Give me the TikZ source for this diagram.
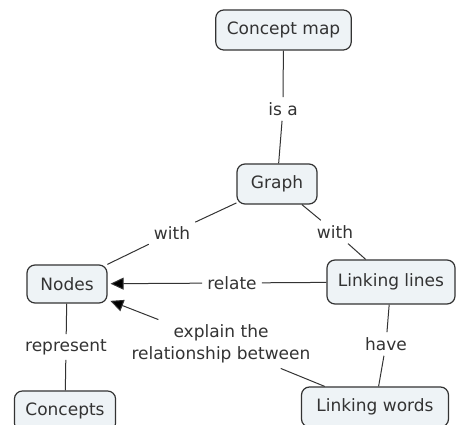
\documentclass[tikz,border=0pt]{standalone}
\usepackage{fontspec}
\setmainfont{DejaVu Sans}
\usetikzlibrary{positioning,arrows.meta}
\definecolor{boxfill}{HTML}{EEF3F6}
\definecolor{ink}{HTML}{333333}

\begin{document}
\begin{tikzpicture}[x=1pt,y=1pt,
  every node/.style={font=\fontsize{17}{22}\selectfont,text=ink},
  concept/.style={draw=ink,line width=1.2pt,fill=boxfill,rounded corners=8pt,
    minimum height=40pt,inner xsep=11pt},
  linkword/.style={inner sep=5pt,align=center},
  link/.style={draw=ink,line width=1pt},
  linkto/.style={link,shorten >=3pt,-{Triangle[length=13pt,width=12pt,fill=black]}}
]
\clip (0,0) rectangle (456,425);
% concepts
\node[concept] (cmap) at (283.5,395) {Concept map};
\node[concept,minimum width=80pt] (graph) at (277,241) {Graph};
\node[concept,minimum width=80pt,minimum height=38pt] (nodes) at (67,141) {Nodes};
\node[concept,minimum height=44pt] (llines) at (391,143) {Linking lines};
\node[concept] (concepts) at (65,14) {Concepts};
\node[concept,minimum width=147pt] (lwords) at (375,18) {Linking words};
% linking words
\node[linkword] (isa) at (283,316) {is a};
\node[linkword] (with1) at (172,192) {with};
\node[linkword] (with2) at (335,193) {with};
\node[linkword] (relate) at (232,142) {relate};
\node[linkword] (represent) at (66,78) {represent};
\node[linkword] (explain) at (221,81) {explain the\\relationship between};
\node[linkword] (have) at (386,81) {have};
% lines
\draw[link] (cmap) -- (isa) -- (graph);
\draw[link] (graph) -- (with1) -- (nodes);
\draw[link] (graph) -- (with2) -- (llines);
\draw[link] (llines) -- (relate);
\draw[linkto] (relate) -- (nodes);
\draw[link] (nodes) -- (represent) -- (concepts);
\draw[link] (llines) -- (have) -- (lwords);
\draw[link] (lwords) -- (explain);
\draw[linkto] (explain) -- (nodes);
\end{tikzpicture}
\end{document}
